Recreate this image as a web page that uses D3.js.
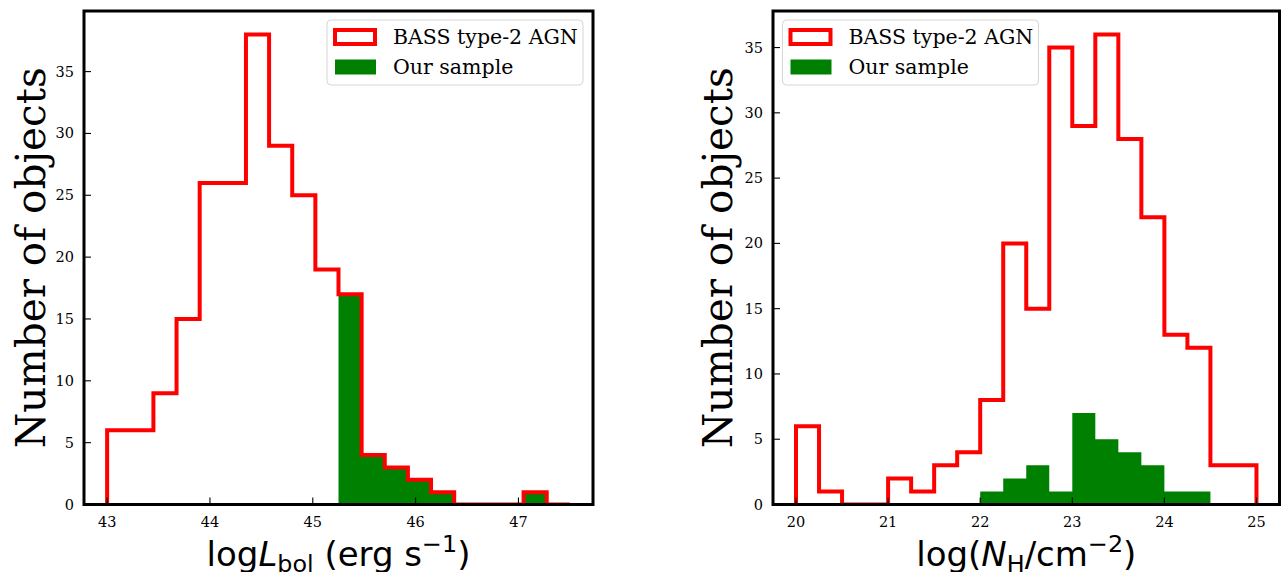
<!DOCTYPE html>
<html>
<head>
<meta charset="utf-8">
<script src="https://cdn.jsdelivr.net/npm/d3@7"></script>
<style>
  html, body { margin: 0; padding: 0; background: #ffffff; }
  svg { display: block; }
</style>
</head>
<body>
<svg id="chart" width="1281" height="572"></svg>
<script>
// ---------------- data ----------------
const lbolEdges = [43.000, 43.225, 43.450, 43.675, 43.900, 44.125, 44.350, 44.575, 44.800, 45.025,
                   45.250, 45.475, 45.700, 45.925, 46.150, 46.375, 46.600, 46.825, 47.050, 47.275, 47.500];
const lbolBass  = [6, 6, 9, 15, 26, 26, 38, 29, 25, 19, 17, 4, 3, 2, 1, 0, 0, 0, 1, 0];
const lbolOurs  = [0, 0, 0, 0, 0, 0, 0, 0, 0, 0, 17, 4, 3, 2, 1, 0, 0, 0, 1, 0];

const nhEdges = [20.00, 20.25, 20.50, 20.75, 21.00, 21.25, 21.50, 21.75, 22.00, 22.25,
                 22.50, 22.75, 23.00, 23.25, 23.50, 23.75, 24.00, 24.25, 24.50, 24.75, 25.00];
const nhBass  = [6, 1, 0, 0, 2, 1, 3, 4, 8, 20, 15, 35, 29, 36, 28, 22, 13, 12, 3, 3];
const nhOurs  = [0, 0, 0, 0, 0, 0, 0, 0, 1, 2, 3, 1, 7, 5, 4, 3, 1, 1, 0, 0];

const lbolXTicks = [43, 44, 45, 46, 47];
const nhXTicks   = [20, 21, 22, 23, 24, 25];
const yTicks     = [0, 5, 10, 15, 20, 25, 30, 35];

const legendLabels = ["BASS type-2 AGN", "Our sample"];
const yLabelText = "Number of objects";

// ---------------- drawing ----------------
const svg = d3.select("#chart");
const SERIF = "'DejaVu Serif', serif";
const SANS = "'DejaVu Sans', sans-serif";
const RED = "#ff0000", GREEN = "#008000";

function stepPoints(edges, counts) {
  const pts = [[edges[0], 0]];
  counts.forEach((c, i) => { pts.push([edges[i], c]); pts.push([edges[i + 1], c]); });
  pts.push([edges[edges.length - 1], 0]);
  return pts;
}

function panel(opt) {
  const { id, box, xDomain, yDomain, edges, bass, ours, xTicks, legendX, yLabelX, xlabel } = opt;
  const x = d3.scaleLinear().domain(xDomain).range([box.x0, box.x1]);
  const y = d3.scaleLinear().domain(yDomain).range([box.y1, box.y0]);
  const g = svg.append("g");

  g.append("clipPath").attr("id", "clip" + id)
    .append("rect").attr("x", box.x0).attr("y", box.y0)
    .attr("width", box.x1 - box.x0).attr("height", box.y1 - box.y0);

  const line = d3.line().x(d => x(d[0])).y(d => y(d[1]));

  // filled "our sample" histogram (stepfilled)
  g.append("path")
    .attr("clip-path", `url(#clip${id})`)
    .attr("d", line(stepPoints(edges, ours)) + "Z")
    .attr("fill", GREEN).attr("stroke", "none");

  // step histogram for BASS
  g.append("path")
    .attr("clip-path", `url(#clip${id})`)
    .attr("d", line(stepPoints(edges, bass)))
    .attr("fill", "none").attr("stroke", RED).attr("stroke-width", 4)
    .attr("stroke-linejoin", "miter");

  // ticks (inward)
  const tl = 7;
  xTicks.forEach(t => {
    g.append("line").attr("x1", x(t)).attr("x2", x(t))
      .attr("y1", box.y1).attr("y2", box.y1 - tl)
      .attr("stroke", "#000").attr("stroke-width", 1.1);
    g.append("text").attr("x", x(t)).attr("y", box.y1 + 22.5)
      .attr("text-anchor", "middle").attr("font-family", SERIF).attr("font-size", 14.5)
      .attr("fill", "#000").text(t);
  });
  yTicks.forEach(t => {
    g.append("line").attr("x1", box.x0).attr("x2", box.x0 + tl)
      .attr("y1", y(t)).attr("y2", y(t))
      .attr("stroke", "#000").attr("stroke-width", 1.1);
    g.append("text").attr("x", box.x0 - 10).attr("y", y(t) + 5)
      .attr("text-anchor", "end").attr("font-family", SERIF).attr("font-size", 14.5)
      .attr("fill", "#000").text(t);
  });

  // spines
  g.append("rect").attr("x", box.x0).attr("y", box.y0)
    .attr("width", box.x1 - box.x0).attr("height", box.y1 - box.y0)
    .attr("fill", "none").attr("stroke", "#000").attr("stroke-width", 3);

  // legend
  const lg = g.append("g").attr("transform", `translate(${legendX},20)`);
  lg.append("rect").attr("x", 0).attr("y", 0).attr("width", 256).attr("height", 65)
    .attr("rx", 4).attr("fill", "#ffffff").attr("fill-opacity", 0.8)
    .attr("stroke", "#d6d6d6").attr("stroke-width", 1);
  lg.append("rect").attr("x", 8).attr("y", 10).attr("width", 40).attr("height", 14)
    .attr("fill", "none").attr("stroke", RED).attr("stroke-width", 4);
  lg.append("rect").attr("x", 8).attr("y", 39.5).attr("width", 41).attr("height", 15)
    .attr("fill", GREEN);
  lg.append("text").attr("x", 66).attr("y", 24).attr("font-family", SERIF)
    .attr("font-size", 20.5).attr("fill", "#000").text(legendLabels[0]);
  lg.append("text").attr("x", 66).attr("y", 54).attr("font-family", SERIF)
    .attr("font-size", 20.5).attr("fill", "#000").text(legendLabels[1]);

  // y label
  g.append("text")
    .attr("transform", `translate(${yLabelX},${(box.y0 + box.y1) / 2}) rotate(-90)`)
    .attr("text-anchor", "middle").attr("font-family", SERIF).attr("font-size", 40.5)
    .attr("fill", "#000").text(yLabelText);

  // x label
  const xl = g.append("text").attr("x", (box.x0 + box.x1) / 2).attr("y", 566)
    .attr("text-anchor", "middle").attr("font-family", SANS).attr("font-size", 34)
    .attr("fill", "#000");
  xlabel(xl);
}

panel({
  id: "L",
  box: { x0: 84, x1: 593, y0: 11, y1: 504.5 },
  xDomain: [42.775, 47.725], yDomain: [0, 39.9],
  edges: lbolEdges, bass: lbolBass, ours: lbolOurs, xTicks: lbolXTicks,
  legendX: 327, yLabelX: 45,
  xlabel: t => {
    t.append("tspan").text("log");
    t.append("tspan").attr("font-style", "italic").text("L");
    t.append("tspan").attr("font-size", 23.8).attr("dy", 6).text("bol");
    t.append("tspan").attr("dy", -6).text("\u00a0(erg s");
    t.append("tspan").attr("font-size", 23.8).attr("dy", -14).text("\u22121");
    t.append("tspan").attr("dy", 14).text(")");
  }
});

panel({
  id: "R",
  box: { x0: 773, x1: 1279.5, y0: 11, y1: 504.5 },
  xDomain: [19.75, 25.25], yDomain: [0, 37.8],
  edges: nhEdges, bass: nhBass, ours: nhOurs, xTicks: nhXTicks,
  legendX: 782.5, yLabelX: 732,
  xlabel: t => {
    t.append("tspan").text("log(");
    t.append("tspan").attr("font-style", "italic").text("N");
    t.append("tspan").attr("font-size", 23.8).attr("dy", 6).text("H");
    t.append("tspan").attr("dy", -6).text("/cm");
    t.append("tspan").attr("font-size", 23.8).attr("dy", -14).text("\u22122");
    t.append("tspan").attr("dy", 14).text(")");
  }
});
</script>
</body>
</html>
